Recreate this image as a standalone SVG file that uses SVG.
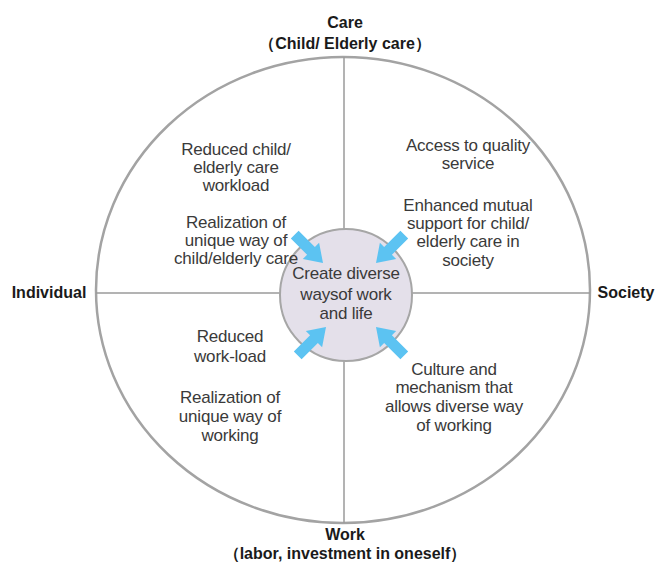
<svg xmlns="http://www.w3.org/2000/svg" width="656" height="563" viewBox="0 0 656 563">
<style>
.t{font-family:"Liberation Sans",Arial,sans-serif;font-size:16px;font-weight:bold;fill:#1a1a1a;text-anchor:middle}
.b{font-family:"Liberation Sans",Arial,sans-serif;font-size:17px;fill:#3a3a3a;text-anchor:middle;letter-spacing:-0.2px}
.ax{stroke:#9a9a9a;stroke-width:1.5;fill:none}
.arr{fill:#5cc3f2}
</style>
<defs>
<polygon id="blk" points="0,-5.5 23,-5.5 23,-11.5 40,0 23,11.5 23,5.5 0,5.5"/>
</defs>
<rect width="656" height="563" fill="#ffffff"/>
<g id="outer">
<ellipse cx="343" cy="290" rx="247" ry="233" fill="none" stroke="#a3a3a3" stroke-width="2.5"/>
</g>
<g id="connectors">
<line class="ax" x1="344" y1="57" x2="344" y2="523"/>
<line class="ax" x1="96" y1="293" x2="590" y2="293"/>
</g>
<g id="center">
<circle cx="346" cy="295" r="66" fill="#e4e0ea" stroke="#a6a6a6" stroke-width="2"/>
<text class="b"><tspan x="346" y="279">Create diverse</tspan><tspan x="346" y="300">waysof work</tspan><tspan x="346" y="319">and life</tspan></text>
</g>
<g id="arrows" class="arr">
<use href="#blk" transform="translate(323,263) rotate(45) translate(-40,0)"/>
<use href="#blk" transform="translate(376,263) rotate(135) translate(-40,0)"/>
<use href="#blk" transform="translate(326,327) rotate(-45) translate(-40,0)"/>
<use href="#blk" transform="translate(376,327) rotate(-135) translate(-40,0)"/>
</g>
<g id="care"><text class="t"><tspan x="345" y="28">Care</tspan><tspan x="345" y="49">（Child/ Elderly care）</tspan></text></g>
<g id="work"><text class="t"><tspan x="345" y="540">Work</tspan><tspan x="345" y="559">（labor, investment in oneself）</tspan></text></g>
<g id="individual"><text class="t" x="49" y="298">Individual</text></g>
<g id="society"><text class="t" x="626" y="298">Society</text></g>
<g id="ul">
<text class="b"><tspan x="236" y="155">Reduced child/</tspan><tspan x="236" y="173">elderly care</tspan><tspan x="236" y="191">workload</tspan><tspan x="236" y="228">Realization of</tspan><tspan x="236" y="246">unique way of</tspan><tspan x="236" y="264">child/elderly care</tspan></text>
</g>
<g id="ur">
<text class="b"><tspan x="468" y="151">Access to quality</tspan><tspan x="468" y="169">service</tspan><tspan x="468" y="211">Enhanced mutual</tspan><tspan x="468" y="229">support for child/</tspan><tspan x="468" y="247">elderly care in</tspan><tspan x="468" y="266">society</tspan></text>
</g>
<g id="ll">
<text class="b"><tspan x="230" y="342">Reduced</tspan><tspan x="230" y="362">work-load</tspan><tspan x="230" y="403">Realization of</tspan><tspan x="230" y="422">unique way of</tspan><tspan x="230" y="441">working</tspan></text>
</g>
<g id="lr">
<text class="b"><tspan x="454" y="375">Culture and</tspan><tspan x="454" y="393">mechanism that</tspan><tspan x="454" y="412">allows diverse way</tspan><tspan x="454" y="431">of working</tspan></text>
</g>
</svg>
